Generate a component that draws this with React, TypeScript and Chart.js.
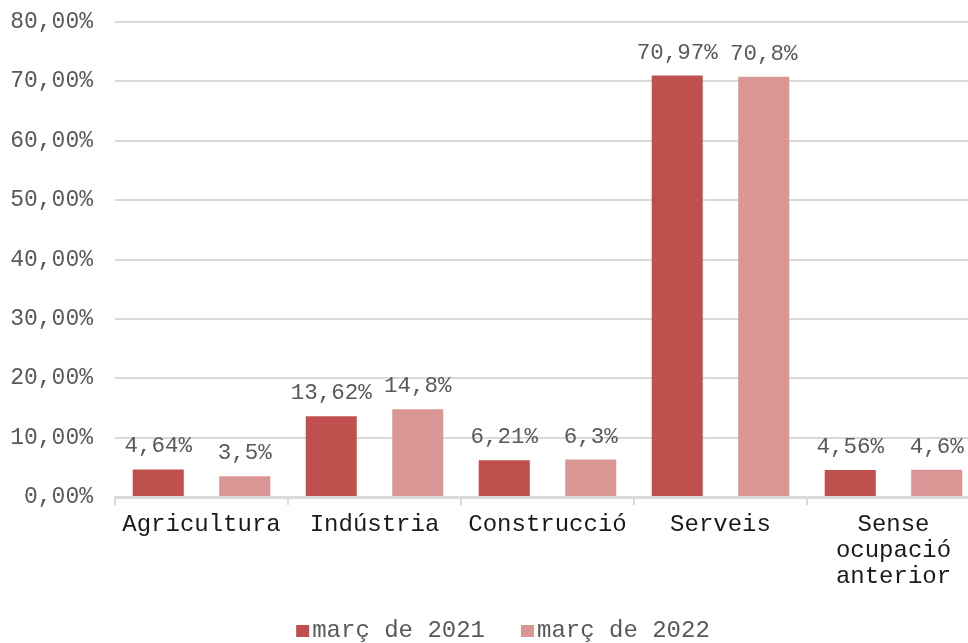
import React, { useEffect, useRef } from "react";
import { Chart, registerables } from "chart.js";

Chart.register(...registerables);

const categories: (string | string[])[] = [
  "Agricultura",
  "Indústria",
  "Construcció",
  "Serveis",
  ["Sense", "ocupació", "anterior"],
];
const series2021 = [4.64, 13.62, 6.21, 70.97, 4.56];
const series2022 = [3.5, 14.8, 6.3, 70.8, 4.6];
const seriesNames = ["març de 2021", "març de 2022"];
const seriesColors = ["#c0504d", "#da9694"];
const yTickValues = [0, 10, 20, 30, 40, 50, 60, 70, 80];

const FONT = "'Liberation Mono', 'Courier New', monospace";

const fmt = (v: number) => String(v).replace(".", ",") + "%";
const fmtTick = (v: number) => v.toFixed(2).replace(".", ",") + "%";

const dataLabels = {
  id: "dataLabels",
  afterDatasetsDraw(chart: any) {
    const ctx = chart.ctx;
    ctx.save();
    ctx.font = `22.5px ${FONT}`;
    ctx.fillStyle = "#595959";
    ctx.textAlign = "center";
    ctx.textBaseline = "alphabetic";
    chart.data.datasets.forEach((ds: any, di: number) => {
      const meta = chart.getDatasetMeta(di);
      meta.data.forEach((bar: any, i: number) => {
        ctx.fillText(fmt(ds.data[i]), bar.x, bar.y - 17);
      });
    });
    ctx.restore();
  },
};

const bottomLegend = {
  id: "bottomLegend",
  afterDraw(chart: any) {
    const ctx = chart.ctx;
    ctx.save();
    ctx.font = `24px ${FONT}`;
    ctx.textBaseline = "middle";
    ctx.textAlign = "left";
    const box = 13;
    const gapBoxText = 3;
    const gapItems = 36;
    const items = chart.data.datasets.map((ds: any) => ({
      text: ds.label,
      color: ds.backgroundColor,
      w: ctx.measureText(ds.label).width,
    }));
    const total =
      items.reduce((a: number, it: any) => a + box + gapBoxText + it.w, 0) +
      gapItems * (items.length - 1);
    let x = chart.width / 2 - total / 2;
    const cy = chart.height - 12;
    items.forEach((it: any) => {
      ctx.fillStyle = it.color;
      ctx.fillRect(x, cy - 6, box, 12);
      x += box + gapBoxText;
      ctx.fillStyle = "#595959";
      ctx.fillText(it.text, x, cy);
      x += it.w + gapItems;
    });
    ctx.restore();
  },
};

export default function App() {
  const ref = useRef<HTMLCanvasElement | null>(null);
  useEffect(() => {
    if (!ref.current) return;
    const chart = new Chart(ref.current, {
      type: "bar",
      data: {
        labels: categories,
        datasets: [
          {
            label: seriesNames[0],
            data: series2021,
            backgroundColor: seriesColors[0],
            categoryPercentage: 1,
            barPercentage: 0.59,
          },
          {
            label: seriesNames[1],
            data: series2022,
            backgroundColor: seriesColors[1],
            categoryPercentage: 1,
            barPercentage: 0.59,
          },
        ],
      },
      options: {
        responsive: false,
        animation: false,
        layout: { padding: { top: 22, right: 26, left: 0, bottom: 0 } },
        plugins: {
          tooltip: { enabled: false },
          legend: { display: false },
        },
        scales: {
          x: {
            afterFit: (s: any) => {
              s.height = 146;
            },
            grid: {
              display: true,
              drawOnChartArea: false,
              drawTicks: true,
              tickLength: 8,
              color: "#d9d9d9",
              lineWidth: 2,
            },
            border: { display: true, color: "#d9d9d9", width: 3 },
            ticks: {
              color: "#1a1a1a",
              padding: 6,
              maxRotation: 0,
              autoSkip: false,
              font: { family: FONT, size: 24, lineHeight: 1.1 },
            },
          },
          y: {
            min: 0,
            max: 80,
            afterFit: (s: any) => {
              s.width = 115;
              s.paddingTop = 0;
              s.paddingBottom = 0;
            },
            afterBuildTicks: (s: any) => {
              s.ticks = yTickValues.map((v) => ({ value: v }));
            },
            grid: { color: "#d9d9d9", lineWidth: 2, drawTicks: false },
            border: { display: false },
            ticks: {
              padding: 22,
              color: "#595959",
              font: { family: FONT, size: 23 },
              callback: (v: any) => fmtTick(Number(v)),
            },
          },
        },
      },
      plugins: [dataLabels, bottomLegend],
    } as any);
    return () => chart.destroy();
  }, []);
  return (
    <div
      style={{
        position: "fixed",
        left: 0,
        top: 0,
        width: 968,
        height: 643,
        overflow: "hidden",
        background: "#fff",
      }}
    >
      <canvas ref={ref} width={1006} height={643} style={{ display: "block" }} />
    </div>
  );
}
